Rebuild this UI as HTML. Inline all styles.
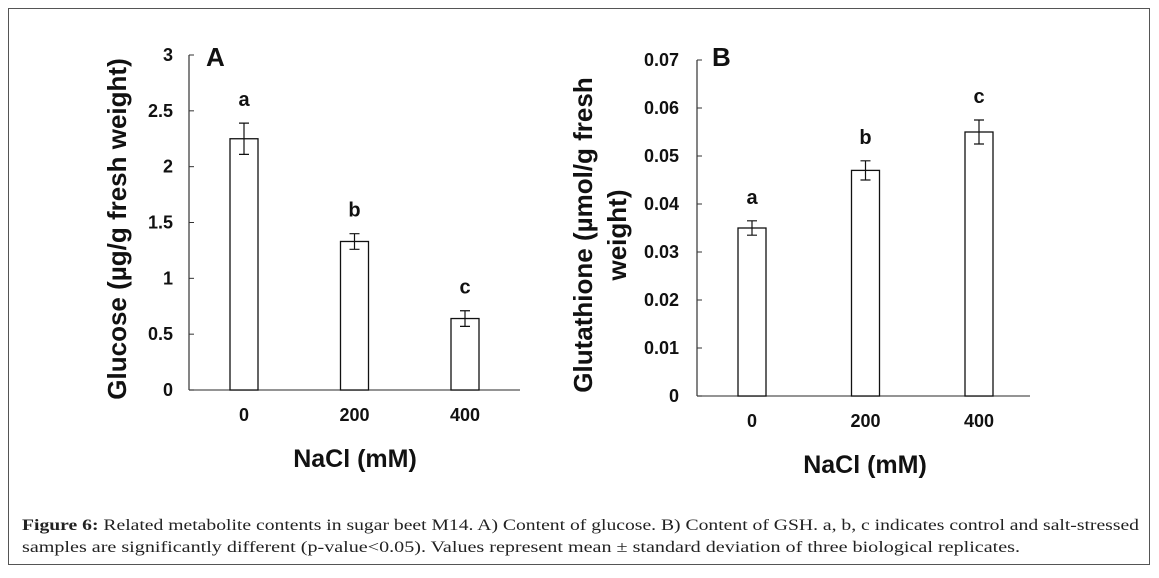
<!DOCTYPE html>
<html><head><meta charset="utf-8"><style>
body{margin:0;background:#fff;}
svg text{font-family:"Liberation Sans",Arial,sans-serif;}
.cap{font-family:"Liberation Serif",serif;font-size:16px;fill:#222;}
</style></head><body>
<svg width="1159" height="573" xmlns="http://www.w3.org/2000/svg">
<rect x="8.5" y="8.5" width="1141" height="556" fill="#fff" stroke="#555"/>
<g id="chartA"></g>
<g id="chartB"></g>
<text class="cap" x="22" y="530" textLength="1117" lengthAdjust="spacingAndGlyphs"><tspan font-weight="bold">Figure 6:</tspan> Related metabolite contents in sugar beet M14. A) Content of glucose. B) Content of GSH. a, b, c indicates control and salt-stressed</text>
<text class="cap" x="22" y="552" textLength="998" lengthAdjust="spacingAndGlyphs">samples are significantly different (p-value&lt;0.05). Values represent mean ± standard deviation of three biological replicates.</text>
</svg>
<script>
const categories=["0","200","400"];
const glucoseValues=[2.25,1.33,0.64];
const glucoseErrors=[0.14,0.07,0.07];
const glucoseLetters=["a","b","c"];
const glucoseTicks=["0","0.5","1","1.5","2","2.5","3"];
const gshValues=[0.035,0.047,0.055];
const gshErrors=[0.0015,0.002,0.0025];
const gshLetters=["a","b","c"];
const gshTicks=["0","0.01","0.02","0.03","0.04","0.05","0.06","0.07"];
const NS="http://www.w3.org/2000/svg";
function mk(parent,tag,attrs,txt){const e=document.createElementNS(NS,tag);for(const k in attrs)e.setAttribute(k,attrs[k]);if(txt!==undefined)e.textContent=txt;parent.appendChild(e);return e;}
function draw(g,cfg){
  const ymax=parseFloat(cfg.ticks[cfg.ticks.length-1]);
  const y=v=>cfg.y0-(v/ymax)*(cfg.y0-cfg.yTop);
  const x=i=>cfg.x1+i*cfg.step;
  let e=mk(g,"line",{x1:cfg.ax,y1:cfg.yTop,x2:cfg.ax,y2:cfg.y0,stroke:"#333","stroke-width":1.2});
  
  e=mk(g,"line",{x1:cfg.ax,y1:cfg.y0,x2:cfg.axEnd,y2:cfg.y0,stroke:"#555","stroke-width":1.2});
  
  cfg.ticks.forEach(t=>{const v=parseFloat(t),yy=y(v);
    e=mk(g,"line",{x1:cfg.ax,y1:yy,x2:cfg.ax+5,y2:yy,stroke:"#333"});
    
    e=mk(g,"text",{x:cfg.tickX,y:yy+6,"text-anchor":"end","font-size":18,"font-weight":"bold",fill:"#111"},t);
    
  });
  cfg.vals.forEach((v,i)=>{const cx=x(i),w=cfg.bw;
    e=mk(g,"rect",{x:cx-w/2,y:y(v),width:w,height:cfg.y0-y(v),fill:"#fff",stroke:"#111","stroke-width":1.3});
    
    const t=y(v+cfg.errs[i]),b=y(v-cfg.errs[i]);
    e=mk(g,"path",{d:`M${cx},${t}V${b}M${cx-5},${t}H${cx+5}M${cx-5},${b}H${cx+5}`,stroke:"#111",fill:"none","stroke-width":1.2});
    
    e=mk(g,"text",{x:cx,y:t-17,"text-anchor":"middle","font-size":20,"font-weight":"bold",fill:"#111"},cfg.letters[i]);
    
    e=mk(g,"text",{x:cx,y:cfg.y0+31,"text-anchor":"middle","font-size":18,"font-weight":"bold",fill:"#111"},categories[i]);
    
  });
  e=mk(g,"text",{x:cfg.xtX,y:cfg.y0+77,"text-anchor":"middle","font-size":25,"font-weight":"bold",fill:"#111"},"NaCl (mM)");
  
  e=mk(g,"text",{x:cfg.panelX,y:66,"font-size":26,"font-weight":"bold",fill:"#111"},cfg.panel);
  
  cfg.titles.forEach(tt=>{
    e=mk(g,"text",{x:0,y:0,"text-anchor":"middle","font-size":26,"font-weight":"bold",fill:"#111",transform:`translate(${tt[0]},${tt[1]}) rotate(-90)`},tt[2]);
    
  });
}
draw(document.getElementById("chartA"),{ticks:glucoseTicks,vals:glucoseValues,errs:glucoseErrors,letters:glucoseLetters,
  ax:189,axEnd:520,yTop:55,y0:390,x1:244,step:110.5,bw:28,tickX:173,xtX:355,panel:"A",panelX:206,
  titles:[[126,229,"Glucose (µg/g fresh weight)"]]});
draw(document.getElementById("chartB"),{ticks:gshTicks,vals:gshValues,errs:gshErrors,letters:gshLetters,
  ax:697,axEnd:1030,yTop:60,y0:396,x1:752,step:113.5,bw:28,tickX:679,xtX:865,panel:"B",panelX:712,
  titles:[[592,235,"Glutathione (µmol/g fresh"],[626,235,"weight)"]]});
</script>
</body></html>
